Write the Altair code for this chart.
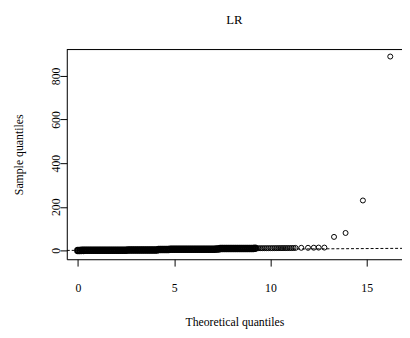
import altair as alt
import pandas as pd

# Theoretical quantiles (x) and sample quantiles (y)
# dense, overlapping part of the plot
theo_dense = [
    0.0, 0.1, 0.2, 0.3, 0.4, 0.5, 0.6, 0.7, 0.8, 0.9,
    1.0, 1.1, 1.2, 1.3, 1.4, 1.5, 1.6, 1.7, 1.8, 1.9,
    2.0, 2.1, 2.2, 2.3, 2.4, 2.5, 2.6, 2.7, 2.8, 2.9,
    3.0, 3.1, 3.2, 3.3, 3.4, 3.5, 3.6, 3.7, 3.8, 3.9,
    4.0, 4.1, 4.2, 4.3, 4.4, 4.5, 4.6, 4.7, 4.8, 4.9,
    5.0, 5.1, 5.2, 5.3, 5.4, 5.5, 5.6, 5.7, 5.8, 5.9,
    6.0, 6.1, 6.2, 6.3, 6.4, 6.5, 6.6, 6.7, 6.8, 6.9,
    7.0, 7.1, 7.2, 7.3, 7.4, 7.5, 7.6, 7.7, 7.8, 7.9,
    8.0, 8.1, 8.2, 8.3, 8.4, 8.5, 8.6, 8.7, 8.8, 8.9,
    9.0, 9.1, 9.2,
]
sample_dense = [
    0.1, 0.1, 0.2, 0.2, 0.3, 0.3, 0.4, 0.4, 0.5, 0.5,
    0.6, 0.6, 0.7, 0.7, 0.8, 0.8, 0.9, 0.9, 1.0, 1.0,
    1.1, 1.1, 1.2, 1.2, 1.3, 1.3, 1.4, 1.4, 1.5, 1.5,
    1.6, 1.6, 1.7, 1.7, 1.8, 1.8, 1.9, 1.9, 2.0, 2.0,
    2.1, 2.1, 4.5, 4.5, 4.6, 4.6, 4.7, 4.7, 4.8, 4.8,
    4.9, 4.9, 5.0, 5.0, 5.1, 5.1, 5.2, 5.2, 5.3, 5.3,
    5.4, 5.4, 5.5, 5.5, 5.6, 5.6, 5.7, 5.7, 5.8, 5.8,
    5.9, 5.9, 6.0, 6.0, 8.5, 8.5, 8.6, 8.6, 8.7, 8.7,
    8.8, 8.8, 8.9, 8.9, 9.0, 9.0, 9.1, 9.1, 9.2, 9.2,
    9.3, 9.3, 9.4,
]
# upper tail, where the circles separate
theo_tail = [
    9.3, 9.4, 9.5, 9.6, 9.7, 9.8, 9.9,
    10.0, 10.1, 10.2, 10.3, 10.4, 10.5, 10.6, 10.7, 10.8, 10.9,
    11.0, 11.1, 11.2,
    11.3, 11.6, 11.95, 12.25, 12.5, 12.8, 13.3, 13.9, 14.8, 16.22,
]
sample_tail = [
    10.0, 10.0, 10.1, 10.1, 10.2, 10.2, 10.3,
    10.3, 10.4, 10.4, 10.5, 10.5, 10.6, 10.6, 10.7, 10.7, 10.8,
    10.8, 10.9, 11.0,
    11.5, 12.0, 12.0, 12.5, 13.0, 13.0, 62.0, 80.0, 229.0, 889.0,
]

# qqline endpoints (dashed reference line)
line_x = [-0.575, 16.83]
line_y = [0.0, 9.5]

x_ticks = [0, 5, 10, 15]
y_ticks = [0, 200, 400, 600, 800]

W, H = 342, 214
x_dom = [-0.575, 16.83]
y_dom = [-40.4, 921.3]

dense = pd.DataFrame({"x": theo_dense, "y": sample_dense})
tail = pd.DataFrame({"x": theo_tail, "y": sample_tail})
ln = pd.DataFrame({"x": line_x, "y": line_y})
one = pd.DataFrame({"k": [0]})

FONT = "Liberation Serif"

xscale = alt.Scale(domain=x_dom, nice=False, zero=False)
yscale = alt.Scale(domain=y_dom, nice=False, zero=False)

xaxis = alt.Axis(
    values=x_ticks, title="Theoretical quantiles", grid=False,
    domainColor="black", tickColor="black", tickSize=7,
    labelFont=FONT, labelFontSize=12, labelColor="black",
    labelPadding=17, labelBaseline="top", labelFlush=False,
    titleFont=FONT, titleFontSize=12, titleFontWeight="normal", titleColor="black",
    titleY=68, titleBaseline="alphabetic",
)
yaxis = alt.Axis(
    values=y_ticks, title="Sample quantiles", grid=False,
    domainColor="black", tickColor="black", tickSize=7,
    labelFont=FONT, labelFontSize=12, labelColor="black",
    labelAngle=270, labelAlign="center", labelBaseline="alphabetic",
    labelPadding=0, labelFlush=False,
    titleFont=FONT, titleFontSize=12, titleFontWeight="normal", titleColor="black",
    titleAngle=270, titleX=-45, titleY=107, titleBaseline="alphabetic", titleAlign="center",
)

dense_pts = alt.Chart(dense).mark_point(
    shape="circle", filled=False, size=32, strokeWidth=2, color="black", opacity=1
).encode(
    x=alt.X("x:Q", scale=xscale, axis=xaxis),
    y=alt.Y("y:Q", scale=yscale, axis=yaxis),
)

tail_pts = alt.Chart(tail).mark_point(
    shape="circle", filled=False, size=26, strokeWidth=1, color="black", opacity=1
).encode(
    x=alt.X("x:Q", scale=xscale),
    y=alt.Y("y:Q", scale=yscale),
)

qqline = alt.Chart(ln).mark_line(
    color="black", strokeWidth=1, strokeDash=[3, 2], clip=True
).encode(
    x=alt.X("x:Q", scale=xscale),
    y=alt.Y("y:Q", scale=yscale),
)

top_rule = alt.Chart(one).mark_rule(color="black", strokeWidth=1).encode(
    x=alt.value(0), x2=alt.value(W), y=alt.value(0)
)

chart = alt.layer(qqline, dense_pts, tail_pts, top_rule).properties(
    width=W, height=H,
    title=alt.TitleParams(text="LR", font=FONT, fontSize=13, fontWeight="normal",
                          color="black", anchor="middle", offset=13, baseline="alphabetic"),
    autosize=alt.AutoSizeParams(type="none"),
    padding={"left": 60, "top": 39, "right": 0, "bottom": 75},
).configure_view(stroke=None).configure(background="white")

chart.save("out.html", embed_options={"renderer": "svg", "actions": False})
